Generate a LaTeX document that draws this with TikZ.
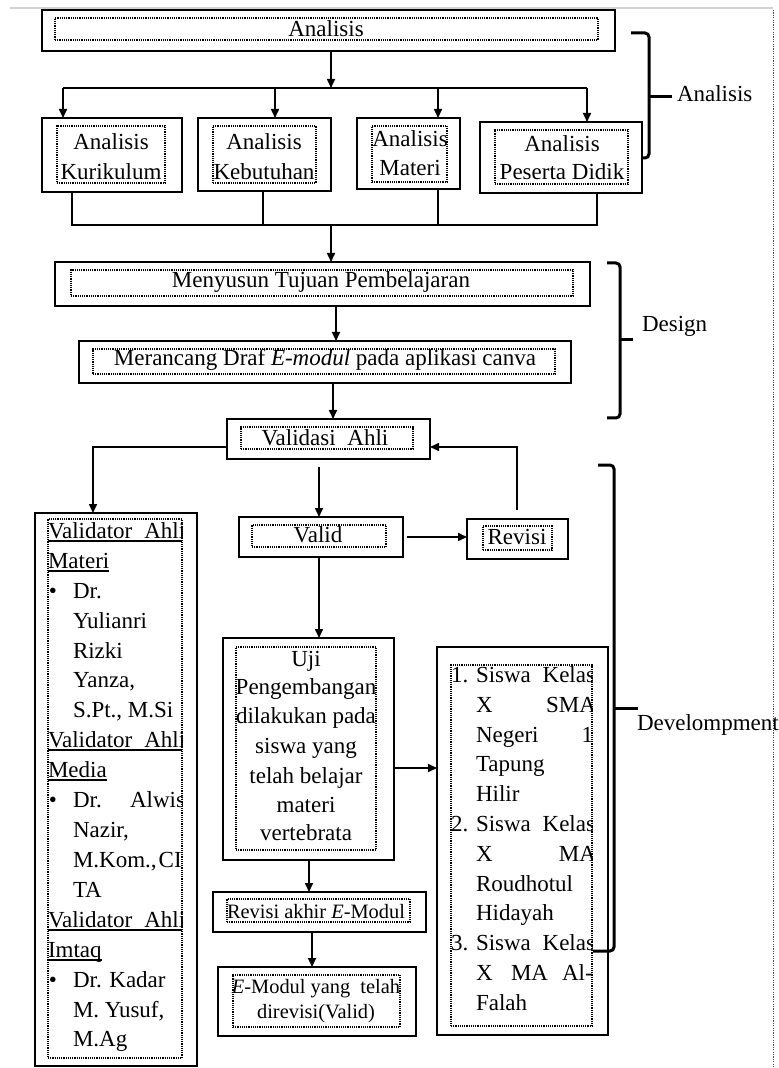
\documentclass[tikz,border=0pt]{standalone}
\usepackage{fontspec}
\setmainfont{Liberation Serif}
\usetikzlibrary{fit,arrows.meta}
\begin{document}
\begin{tikzpicture}[x=0.5pt,y=-0.5pt,
  every node/.style={inner sep=0pt, outer sep=0pt},
  obox/.style={draw, line width=0.9pt, inner sep=0pt},
  ibox/.style={draw, line width=0.55pt, dash pattern=on 0.6pt off 0.5pt, inner sep=0pt},
  txt/.style={font=\fontsize{11.5pt}{14pt}\selectfont, inner sep=0pt},
  stxt/.style={font=\fontsize{10.2pt}{12pt}\selectfont, inner sep=0pt},
  arr/.style={line width=0.8pt, -{Triangle[length=4.5pt,width=4pt]}},
  ln/.style={line width=0.8pt},
  brc/.style={line width=1.5pt, rounded corners=2pt},
  uthick/.style={line width=1pt},
  uthin/.style={line width=0.6pt},
]
\useasboundingbox (0,0) rectangle (779,1068);

% page edges
\draw[gray!35, line width=0.8pt] (10,8) -- (773,8);
\draw[gray!60!black, line width=0.5pt, dash pattern=on 0.6pt off 0.6pt] (773,10) -- (773,1068);

% ---------- Analisis ----------
\node[obox, fit={(42,10) (615,51)}] (A0) {};
\node[ibox, fit={(55,18) (598,40)}] (A0i) {};
\node[txt, anchor=base] (A0t) at (326,37) {Analisis};

\node[obox, fit={(42,118) (182,192)}] (A1) {};
\node[ibox, fit={(57,126) (165,183)}] (A1i) {};
\node[txt, anchor=base] (A1a) at (111,150) {Analisis};
\node[txt, anchor=base] (A1b) at (111,180) {Kurikulum};

\node[obox, fit={(198,118) (331,191)}] (A2) {};
\node[ibox, fit={(213,126) (316,183)}] (A2i) {};
\node[txt, anchor=base] (A2a) at (264,150) {Analisis};
\node[txt, anchor=base] (A2b) at (264,180) {Kebutuhan};

\node[obox, fit={(357,118) (460,189)}] (A3) {};
\node[ibox, fit={(372,126) (447,182)}] (A3i) {};
\node[txt, anchor=base] (A3a) at (410,147) {Analisis};
\node[txt, anchor=base] (A3b) at (410,176) {Materi};

\node[obox, fit={(480,122) (642,193)}] (A4) {};
\node[ibox, fit={(495,130) (628,184)}] (A4i) {};
\node[txt, anchor=base] (A4a) at (562,152) {Analisis};
\node[txt, anchor=base] (A4b) at (562,180) {Peserta Didik};

% ---------- Design ----------
\node[obox, fit={(55,262) (590,306)}] (M1) {};
\node[ibox, fit={(71,270) (573,296)}] (M1i) {};
\node[txt, anchor=base] (M1t) at (321,288) {Menyusun Tujuan Pembelajaran};

\node[obox, fit={(79,341) (571,383)}] (M2) {};
\node[ibox, fit={(93,349) (555,374)}] (M2i) {};
\node[txt, anchor=base] (M2t) at (325,366) {Merancang Draf \textit{E-modul} pada aplikasi canva};

% ---------- Development ----------
\node[obox, fit={(227,419) (430,459)}] (V) {};
\node[ibox, fit={(241,427) (413,449)}] (Vi) {};
\node[txt, anchor=base] (Vt) at (325,445) {Validasi\hspace{3pt} Ahli};

\node[obox, fit={(239,517) (403,557)}] (Valid) {};
\node[ibox, fit={(252,525) (386,547)}] (Validi) {};
\node[txt, anchor=base] (Validt) at (318,542) {Valid};

\node[obox, fit={(467,519) (568,559)}] (Revisi) {};
\node[ibox, fit={(483,526) (552,550)}] (Revisii) {};
\node[txt, anchor=base] (Revisit) at (517,544) {Revisi};

\node[obox, fit={(223,638) (394,860)}] (Uji) {};
\node[ibox, fit={(236,647) (376,850)}] (Ujii) {};
\node[txt, anchor=base] (U1) at (306,666) {Uji};
\node[txt, anchor=base] (U2) at (306,694) {Pengembangan};
\node[txt, anchor=base] (U3) at (306,723) {dilakukan pada};
\node[txt, anchor=base] (U4) at (306,753) {siswa yang};
\node[txt, anchor=base] (U5) at (306,783) {telah belajar};
\node[txt, anchor=base] (U6) at (306,812) {materi};
\node[txt, anchor=base] (U7) at (306,840) {vertebrata};

\node[obox, fit={(213,892) (426,932)}] (RA) {};
\node[ibox, fit={(227,899) (410,922)}] (RAi) {};
\node[stxt, anchor=base] (RAt) at (316,918) {Revisi akhir \textit{E}-Modul};

\node[obox, fit={(218,967) (416,1036)}] (F) {};
\node[ibox, fit={(233,975) (400,1027)}] (Fi) {};
\node[stxt, anchor=base] (F1) at (316,993) {\textit{E}-Modul yang\hspace{2.5pt} telah};
\node[stxt, anchor=base] (F2) at (316,1018) {direvisi(Valid)};

% left column
\node[obox, fit={(35,513) (197,1066)}] (L) {};
\node[ibox, fit={(48,519) (182,1058)}] (Li) {};
\begin{scope}
\clip (48,519) rectangle (182,1058);
\node[txt, anchor=base west] (L0) at (48,538) {Validator\hspace{6pt}Ahli};
\node[txt, anchor=base west] (L1) at (48,568) {Materi};
\node[txt, anchor=base] (Lb1) at (53,598) {\textbullet};
\node[txt, anchor=base west] (L2) at (73,598) {Dr.};
\node[txt, anchor=base west] (L3) at (73,628) {Yulianri};
\node[txt, anchor=base west] (L4) at (73,658) {Rizki};
\node[txt, anchor=base west] (L5) at (73,687) {Yanza,};
\node[txt, anchor=base west] (L6) at (73,717) {S.Pt., M.Si};
\node[txt, anchor=base west] (L7) at (48,747) {Validator\hspace{6pt}Ahli};
\node[txt, anchor=base west] (L8) at (48,777) {Media};
\node[txt, anchor=base] (Lb2) at (53,807) {\textbullet};
\node[txt, anchor=base west] (L9) at (73,807) {Dr.};
\node[txt, anchor=base east] (L9b) at (185,807) {Alwis};
\node[txt, anchor=base west] (L10) at (73,837) {Nazir,};
\node[txt, anchor=base west] (L11) at (73,867) {M.Kom.,\kern1pt CI};
\node[txt, anchor=base west] (L12) at (73,897) {TA};
\node[txt, anchor=base west] (L13) at (48,927) {Validator\hspace{6pt}Ahli};
\node[txt, anchor=base west] (L14) at (48,957) {Imtaq};
\node[txt, anchor=base] (Lb3) at (53,987) {\textbullet};
\node[txt, anchor=base west] (L15) at (73,987) {Dr. Kadar};
\node[txt, anchor=base west] (L16) at (73,1017) {M. Yusuf,};
\node[txt, anchor=base west] (L17) at (73,1046) {M.Ag};
\end{scope}
\draw[uthick] (48,541) -- (182,541);
\draw[uthick] (48,750) -- (182,750);
\draw[uthick] (48,930) -- (182,930);
\draw[uthin] ([yshift=-1.5pt]L1.base west) -- ([yshift=-1.5pt]L1.base east);
\draw[uthin] ([yshift=-1.5pt]L8.base west) -- ([yshift=-1.5pt]L8.base east);
\draw[uthin] ([yshift=-1.5pt]L14.base west) -- ([yshift=-1.5pt]L14.base east);

% right column
\node[obox, fit={(437,647) (608,1035)}] (R) {};
\node[ibox, fit={(451,665) (592,1026)}] (Ri) {};
\begin{scope}
\clip (451,665) rectangle (592,1026);
\node[txt, anchor=base west] (R0n) at (451,682) {1.};
\node[txt, anchor=base west] (R0) at (476,682) {Siswa};
\node[txt, anchor=base east] (R0b) at (595,682) {Kelas};
\node[txt, anchor=base west] (R1) at (476,712) {X};
\node[txt, anchor=base east] (R1b) at (596,712) {SMA};
\node[txt, anchor=base west] (R2) at (476,742) {Negeri};
\node[txt, anchor=base east] (R2b) at (593,742) {1};
\node[txt, anchor=base west] (R3) at (476,771) {Tapung};
\node[txt, anchor=base west] (R4) at (476,801) {Hilir};
\node[txt, anchor=base west] (R5n) at (451,831) {2.};
\node[txt, anchor=base west] (R5) at (476,831) {Siswa};
\node[txt, anchor=base east] (R5b) at (595,831) {Kelas};
\node[txt, anchor=base west] (R6) at (476,861) {X};
\node[txt, anchor=base east] (R6b) at (596,861) {MA};
\node[txt, anchor=base west] (R7) at (476,891) {Roudhotul};
\node[txt, anchor=base west] (R8) at (476,920) {Hidayah};
\node[txt, anchor=base west] (R9n) at (451,950) {3.};
\node[txt, anchor=base west] (R9) at (476,950) {Siswa};
\node[txt, anchor=base east] (R9b) at (595,950) {Kelas};
\node[txt, anchor=base west] (R10) at (476,980) {X};
\node[txt, anchor=base west] (R10b) at (511,980) {MA};
\node[txt, anchor=base west] (R10c) at (562,980) {Al-};
\node[txt, anchor=base west] (R11) at (476,1010) {Falah};
\end{scope}

% ---------- connectors ----------
\coordinate (j0) at (331,88);
\coordinate (h1) at (63,88);
\coordinate (h2) at (275,88);
\coordinate (h3) at (438,88);
\coordinate (h4) at (587,88);
\draw[arr] (A0.south -| j0) -- (j0);
\draw[ln] (h1) -- (h4);
\draw[arr] (h1) -- (h1 |- A1.north);
\draw[arr] (h2) -- (h2 |- A2.north);
\draw[arr] (h3) -- (h3 |- A3.north);
\draw[arr] (h4) -- (h4 |- A4.north);

\coordinate (g0) at (331,225);
\coordinate (g1) at (72,225);
\coordinate (g2) at (263,225);
\coordinate (g3) at (438,225);
\coordinate (g4) at (597,225);
\draw[ln] (g1 |- A1.south) -- (g1) -- (g4) -- (g4 |- A4.south);
\draw[ln] (g2 |- A2.south) -- (g2);
\draw[ln] (g3 |- A3.south) -- (g3);
\draw[arr] (g0) -- (g0 |- M1.north);

\coordinate (k1) at (336,0);
\coordinate (k2) at (333,0);
\draw[arr] (M1.south -| k1) -- (k1 |- M2.north);
\draw[arr] (M2.south -| k2) -- (k2 |- V.north);

\coordinate (l1) at (93,447);
\draw[arr] (l1 -| V.west) -- (l1) -- (l1 |- L.north);

\coordinate (k3) at (319,467);
\draw[arr] (k3) -- (k3 |- Valid.north);
\coordinate (k4) at (407,537);
\draw[arr] (k4) -- (k4 -| Revisi.west);
\coordinate (k5) at (517,510);
\draw[arr] (k5) -- (k5 |- l1) -- (l1 -| V.east);
\draw[arr] (Valid.south -| k3) -- (k3 |- Uji.north);
\coordinate (k6) at (0,768);
\draw[arr] (k6 -| Uji.east) -- (k6 -| R.west);
\coordinate (k7) at (309,0);
\draw[arr] (Uji.south -| k7) -- (k7 |- RA.north);
\coordinate (k8) at (312,0);
\draw[arr] (RA.south -| k8) -- (k8 |- F.north);

% ---------- braces ----------
\draw[brc] (631,33) -- (649,33) -- (649,158) -- (643,158);
\draw[brc] (649,97) -- (672,97);
\node[txt, anchor=base west] (labA) at (677,102) {Analisis};

\draw[brc] (607,263) -- (620,263) -- (620,418) -- (607,418);
\draw[brc] (620,340) -- (633,340);
\node[txt, anchor=base west] (labD) at (642,332) {Design};

\draw[brc] (598,465) -- (614,465) -- (614,951) -- (593,951);
\draw[brc] (614,708) -- (638,708);
\node[txt, anchor=base west] (labDev) at (637,730) {Develompment};
\end{tikzpicture}
\end{document}
